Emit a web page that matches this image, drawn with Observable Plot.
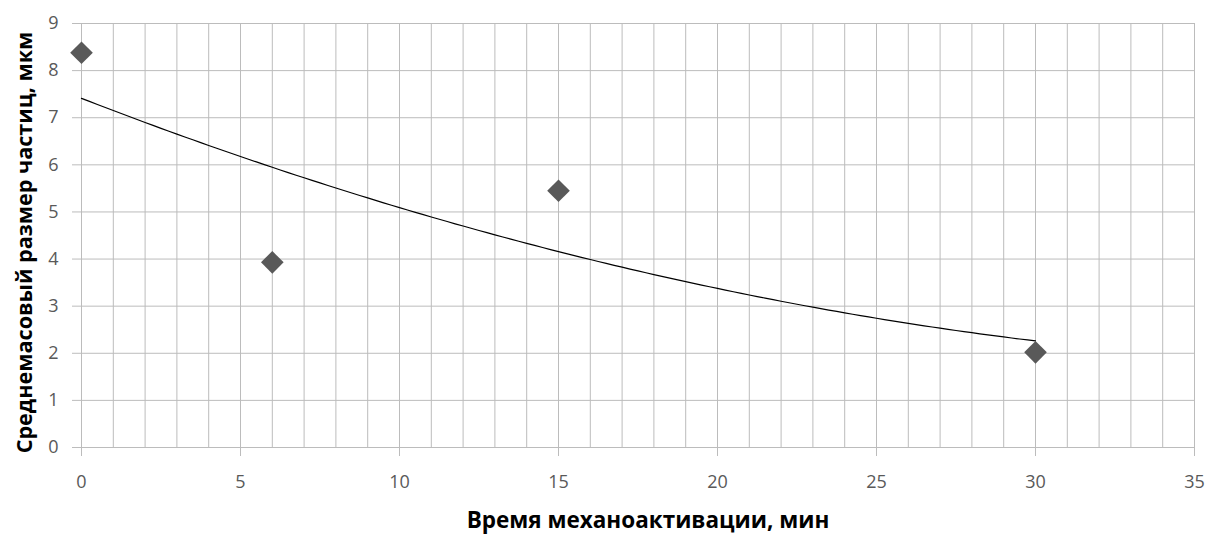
<!DOCTYPE html>
<html>
<head>
<meta charset="utf-8">
<script src="https://cdn.jsdelivr.net/npm/d3@7"></script>
<script src="https://cdn.jsdelivr.net/npm/@observablehq/plot@0.6"></script>
<style>
  html, body { margin: 0; padding: 0; background: #fff; }
  #chart svg { display: block; }
</style>
</head>
<body>
<div id="chart"></div>
<script>
// Data
const times = [0, 6, 15, 30];                 // Время механоактивации, мин
const sizes = [8.38, 3.93, 5.45, 2.02];       // Среднемасовый размер частиц, мкм
const xTicks = [0, 5, 10, 15, 20, 25, 30, 35];
const yTicks = [0, 1, 2, 3, 4, 5, 6, 7, 8, 9];
const xGrid = d3.range(0, 36, 1);
const yGrid = d3.range(0, 10, 1);
const xLabel = "Время механоактивации, мин";
const yLabel = "Среднемасовый размер частиц, мкм";

const points = times.map((t, i) => ({t, s: sizes[i]}));

// 2nd-order polynomial trendline (least squares) computed from the data
function polyFit2(xs, ys) {
  const S = k => d3.sum(xs, x => x ** k);
  const T = k => d3.sum(xs, (x, i) => x ** k * ys[i]);
  const A = [[S(0), S(1), S(2), T(0)], [S(1), S(2), S(3), T(1)], [S(2), S(3), S(4), T(2)]];
  for (let c = 0; c < 3; c++) {
    for (let r = c + 1; r < 3; r++) {
      const f = A[r][c] / A[c][c];
      for (let k = c; k < 4; k++) A[r][k] -= f * A[c][k];
    }
  }
  const b = [0, 0, 0];
  for (let r = 2; r >= 0; r--) {
    let v = A[r][3];
    for (let k = r + 1; k < 3; k++) v -= A[r][k] * b[k];
    b[r] = v / A[r][r];
  }
  return b;
}
const coef = polyFit2(times, sizes);
const [tMin, tMax] = d3.extent(times);
const trend = d3.range(0, 121).map(i => {
  const t = tMin + (tMax - tMin) * i / 120;
  return {t, s: coef[0] + coef[1] * t + coef[2] * t * t};
});

const chart = Plot.plot({
  width: 1211,
  height: 534,
  marginLeft: 81,
  marginRight: 17,
  marginTop: 23,
  marginBottom: 87,
  x: {domain: [0, 35]},
  y: {domain: [0, 9]},
  style: {fontFamily: "'Open Sans', sans-serif", fontSize: "18px", background: "#fff", color: "#595959"},
  marks: [
    Plot.gridX(xGrid, {stroke: "#bcbcbc", strokeOpacity: 1}),
    Plot.gridY(yGrid, {stroke: "#bcbcbc", strokeOpacity: 1}),
    Plot.axisY(yTicks, {tickSize: 9, tickPadding: 14, stroke: "#bcbcbc", fill: "#595959", label: null, fontSize: 18}),
    Plot.axisX(xTicks, {tickSize: 9, tickPadding: 19, stroke: "#bcbcbc", fill: "#595959", label: null, fontSize: 18}),
    Plot.line(trend, {x: "t", y: "s", stroke: "#000", strokeWidth: 1.2}),
    Plot.dot(points, {x: "t", y: "s", symbol: "diamond2", r: 10.2, fill: "#595959", stroke: "none"}),
    Plot.text([xLabel], {text: d => d, frameAnchor: "bottom", textAnchor: "middle", lineAnchor: "middle", dx: 10, dy: 73, fontSize: 22.5, fontWeight: "bold", fill: "#000"}),
    Plot.text([yLabel], {text: d => d, frameAnchor: "left", textAnchor: "middle", lineAnchor: "middle", rotate: -90, dx: -56, dy: 7, fontSize: 21.6, fontWeight: "bold", fill: "#000"})
  ]
});
document.getElementById("chart").appendChild(chart);
</script>
</body>
</html>
